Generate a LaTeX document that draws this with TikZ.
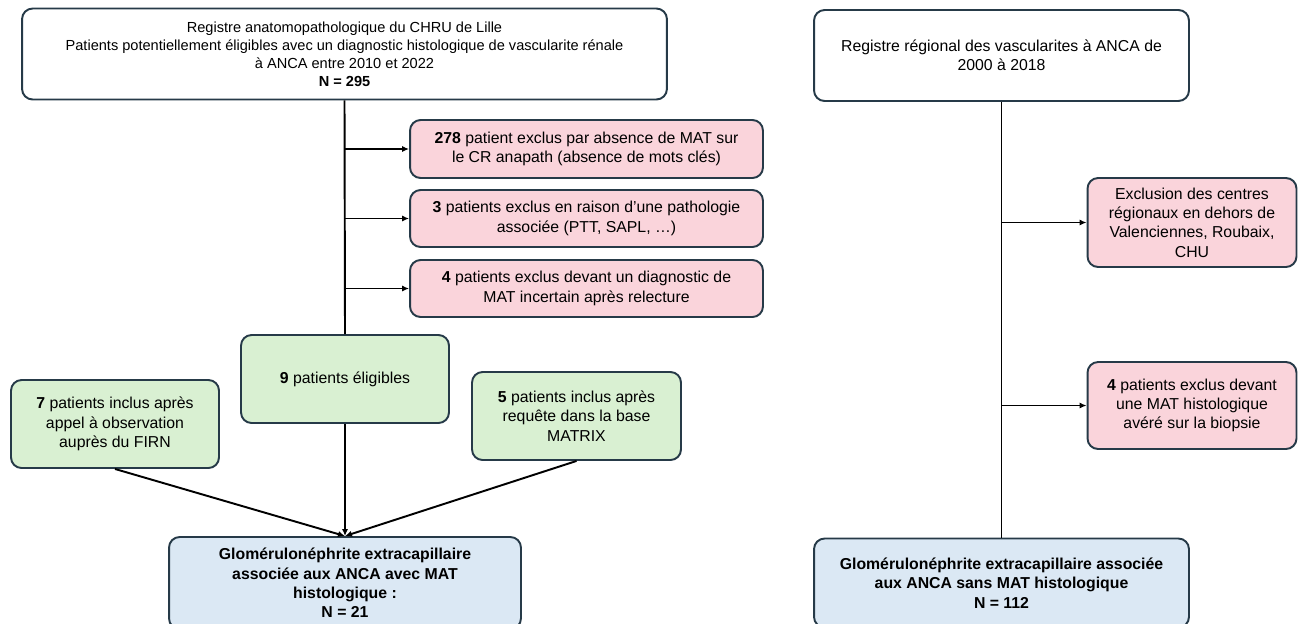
\documentclass[tikz,border=0pt]{standalone}
\usepackage{fontspec}
\setmainfont{Liberation Sans}
\usepackage{tikz}
\usetikzlibrary{arrows.meta, positioning, calc}
\definecolor{boxline}{HTML}{263A48}
\definecolor{exred}{HTML}{FAD4DB}
\definecolor{ingreen}{HTML}{D9F0D2}
\definecolor{resblue}{HTML}{DBE8F4}

\begin{document}
\begin{tikzpicture}[
    x=0.02cm, y=-0.02cm,
    box/.style={draw=boxline, line width=1.1pt, rounded corners=6pt, align=center,
        inner sep=2pt, font=\fontsize{9}{11}\selectfont},
    regbox/.style={box, fill=white},
    exbox/.style={box, fill=exred},
    inbox/.style={box, fill=ingreen},
    resbox/.style={box, fill=resblue, font=\fontsize{9}{11}\selectfont\bfseries},
    link/.style={line width=1.1pt, black},
    arr/.style={link, -{Latex[length=4pt, width=3.5pt]}},
]
    \useasboundingbox (0,0) rectangle (1301,623);

    % left branch
    \node[regbox, minimum width=12.9cm, minimum height=1.82cm, font=\fontsize{8.3}{10.2}\selectfont]
        (regLille) at (344.5,54) {Registre anatomopathologique du CHRU de Lille\\
        Patients potentiellement éligibles avec un diagnostic histologique de vascularite rénale\\
        à ANCA entre 2010 et 2022\\\textbf{N = 295}};

    \node[exbox, minimum width=7.06cm, minimum height=1.16cm] (ex278) at (586.5,149)
        {\textbf{278} patient exclus par absence de MAT sur\\le CR anapath (absence de mots clés)};
    \node[exbox, minimum width=7.06cm, minimum height=1.14cm] (ex3) at (586.5,218.5)
        {\textbf{3} patients exclus en raison d’une pathologie\\associée (PTT, SAPL, …)};
    \node[exbox, minimum width=7.06cm, minimum height=1.14cm] (ex4) at (586.5,288.5)
        {\textbf{4} patients exclus devant un diagnostic de\\MAT incertain après relecture};

    \node[inbox, minimum width=4.16cm, minimum height=1.76cm] (elig) at (345,379)
        {\textbf{9} patients éligibles};
    \node[inbox, minimum width=4.16cm, minimum height=1.76cm] (firn) at (115,424)
        {\textbf{7} patients inclus après\\appel à observation\\auprès du FIRN};
    \node[inbox, minimum width=4.18cm, minimum height=1.76cm] (matrix) at (576.5,416)
        {\textbf{5} patients inclus après\\requête dans la base\\MATRIX};

    \node[resbox, minimum width=7.04cm, minimum height=1.84cm] (gnMat) at (345,583)
        {Glomérulonéphrite extracapillaire\\associée aux ANCA avec MAT\\histologique :\\N = 21};

    \draw[link] (regLille.south) -- (elig.north);
    \draw[arr] (ex278.west -| regLille.south) -- (ex278.west);
    \draw[arr] (ex3.west -| regLille.south) -- (ex3.west);
    \draw[arr] (ex4.west -| regLille.south) -- (ex4.west);
    \draw[arr] (elig.south) -- (gnMat.north);
    \draw[arr] (firn.south) -- (gnMat.north);
    \draw[arr] (matrix.south) -- (gnMat.north);

    % right branch
    \node[regbox, minimum width=7.5cm, minimum height=1.82cm] (regRegion) at (1001.5,55.5)
        {Registre régional des vascularites à ANCA de\\2000 à 2018};

    \node[exbox, minimum width=4.18cm, minimum height=1.78cm] (exCentres) at (1192,222.5)
        {Exclusion des centres\\régionaux en dehors de\\Valenciennes, Roubaix,\\CHU};
    \node[exbox, minimum width=4.18cm, minimum height=1.74cm] (exBiopsie) at (1192,405.5)
        {\textbf{4} patients exclus devant\\une MAT histologique\\avéré sur la biopsie};

    \node[resbox, minimum width=7.5cm, minimum height=1.78cm] (gnSansMat) at (1001.5,583)
        {Glomérulonéphrite extracapillaire associée\\aux ANCA sans MAT histologique\\N = 112};

    \draw[link] (regRegion.south) -- (gnSansMat.north);
    \draw[arr] (exCentres.west -| regRegion.south) -- (exCentres.west);
    \draw[arr] (exBiopsie.west -| regRegion.south) -- (exBiopsie.west);
\end{tikzpicture}
\end{document}
